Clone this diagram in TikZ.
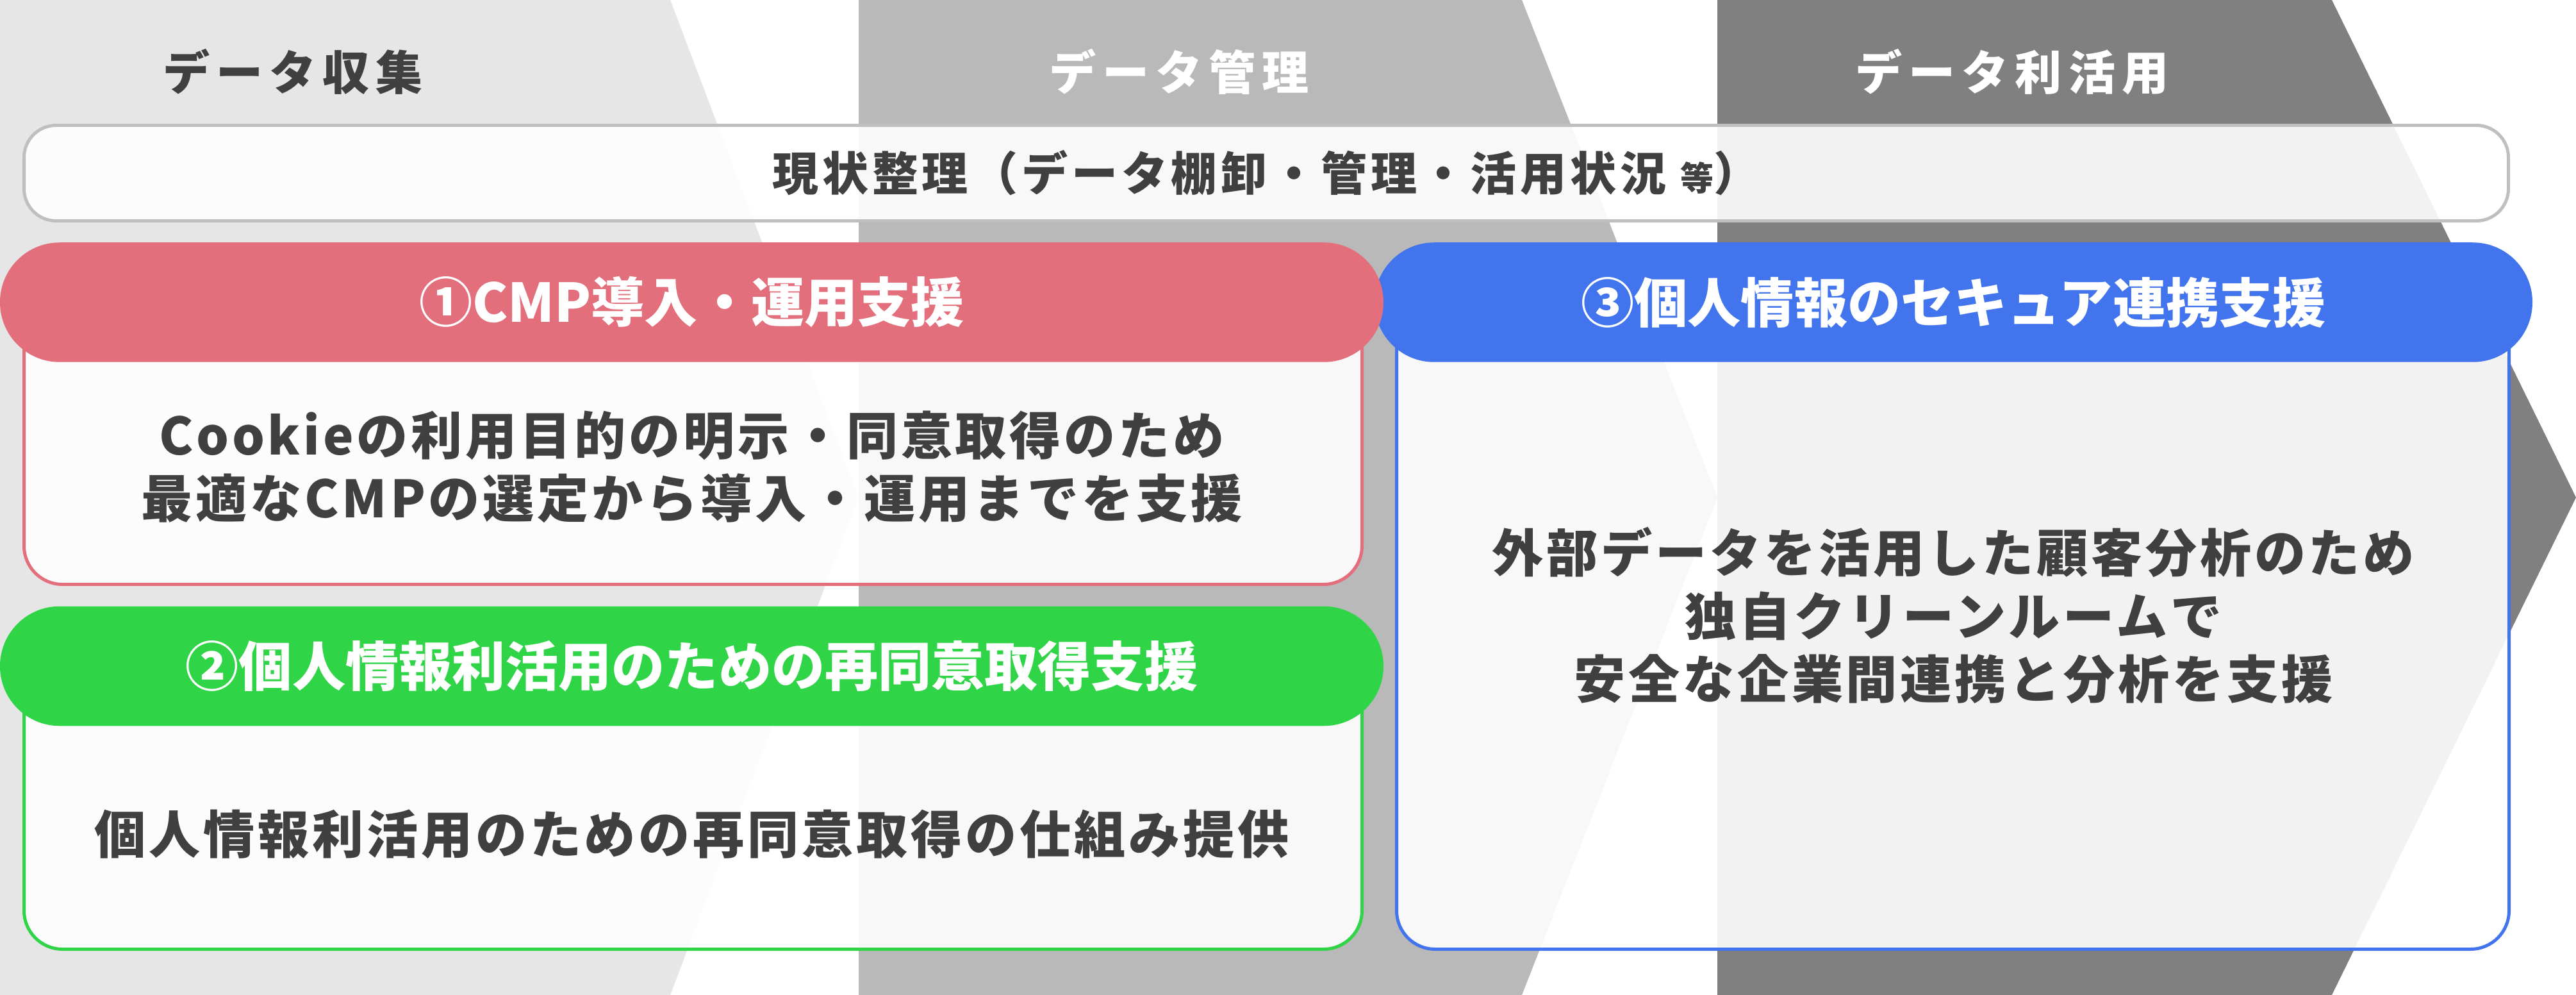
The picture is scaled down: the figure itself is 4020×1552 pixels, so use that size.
\documentclass[tikz,border=0pt]{standalone}
\usepackage{fontspec}
\setmainfont{Noto Sans CJK JP}
\newfontfamily\phasefont{Noto Sans CJK JP}[LetterSpace=13.7]
\newfontfamily\statusfont{Noto Sans CJK JP}[LetterSpace=8]
\newfontfamily\descfont{Noto Sans CJK JP}[LetterSpace=6]
\usetikzlibrary{positioning}
\definecolor{bandA}{HTML}{E6E6E6}
\definecolor{bandB}{HTML}{B9B9B9}
\definecolor{bandC}{HTML}{808080}
\definecolor{ink}{HTML}{404040}
\definecolor{frame}{HTML}{BFBFBF}
\definecolor{cmpRed}{HTML}{E36F7C}
\definecolor{consentGreen}{HTML}{30D447}
\definecolor{secureBlue}{HTML}{4274EE}
\tikzstyle{phase} = [inner sep=0pt, font=\phasefont\bfseries\fontsize{20.8}{20.8}\selectfont]
\tikzstyle{status} = [rectangle, rounded corners=5mm, draw=frame, line width=1.42pt, fill=white, fill opacity=0.9, text opacity=1, text=ink, minimum width=387.7mm, minimum height=14.9mm, inner sep=0pt, font=\statusfont\bfseries\fontsize{20.5}{20.5}\selectfont]
\tikzstyle{card} = [rectangle, rounded corners=6mm, line width=1.42pt, fill=white, fill opacity=0.9, minimum width=208.8mm]
\tikzstyle{pill} = [rectangle, rounded corners=9.3mm, minimum height=18.65mm, inner sep=0pt, text=white, font=\bfseries\fontsize{23.65}{23.65}\selectfont]
\tikzstyle{desc} = [inner sep=0pt, align=center, text=ink, font=\descfont\bfseries\fontsize{22.8}{27.9}\selectfont]

\begin{document}
\begin{tikzpicture}[x=0.1mm, y=-0.1mm]
\useasboundingbox (0,0) rectangle (4020,1552);
\fill[bandA] (0,0) -- (1046,0) -- (1340,776) -- (1046,1552) -- (0,1552) -- cycle;
\fill[bandB] (1340,0) -- (2375,0) -- (2680,776) -- (2375,1552) -- (1340,1552) -- cycle;
\fill[bandC] (2680,0) -- (3639,0) -- (4020,776) -- (3639,1552) -- (2680,1552) -- cycle;
\node (collect) [phase, text=ink] at (457,112) {データ収集};
\node (manage) [phase, text=white] at (1840,112) {データ管理};
\node (utilize) [phase, text=white] at (3140,112) {データ利活用};
\node (status) [status] at (1976,270) {現状整理（データ棚卸・管理・活用状況 {\fontsize{14.8}{14.8}\selectfont 等}）};
\node (cmpCard) [card, draw=cmpRed, minimum height=44.05mm] at (1081.5,691.25) {};
\node (consentCard) [card, draw=consentGreen, minimum height=44.15mm] at (1081.5,1259.75) {};
\node (secureCard) [card, draw=secureBlue, minimum width=173.6mm, minimum height=100.95mm] at (3047.5,975.75) {};
\node (secureHead) [pill, fill=secureBlue, minimum width=180.7mm] at (3048.5,471.5) {③個人情報のセキュア連携支援};
\node (cmpHead) [pill, fill=cmpRed, minimum width=215.9mm] at (1079.5,471.5) {①CMP導入・運用支援};
\node (consentHead) [pill, fill=consentGreen, minimum width=215.9mm] at (1079.5,1039) {②個人情報利活用のための再同意取得支援};
\node (cmpText) [desc, below of=cmpHead, node distance=25.65mm] {Cookieの利用目的の明示・同意取得のため\\最適なCMPの選定から導入・運用までを支援};
\node (consentText) [desc, below of=consentHead, node distance=26.2mm] {個人情報利活用のための再同意取得の仕組み提供};
\node (secureText) [desc, below of=secureHead, node distance=48.85mm] {外部データを活用した顧客分析のため\\独自クリーンルームで\\安全な企業間連携と分析を支援};
\end{tikzpicture}
\end{document}
